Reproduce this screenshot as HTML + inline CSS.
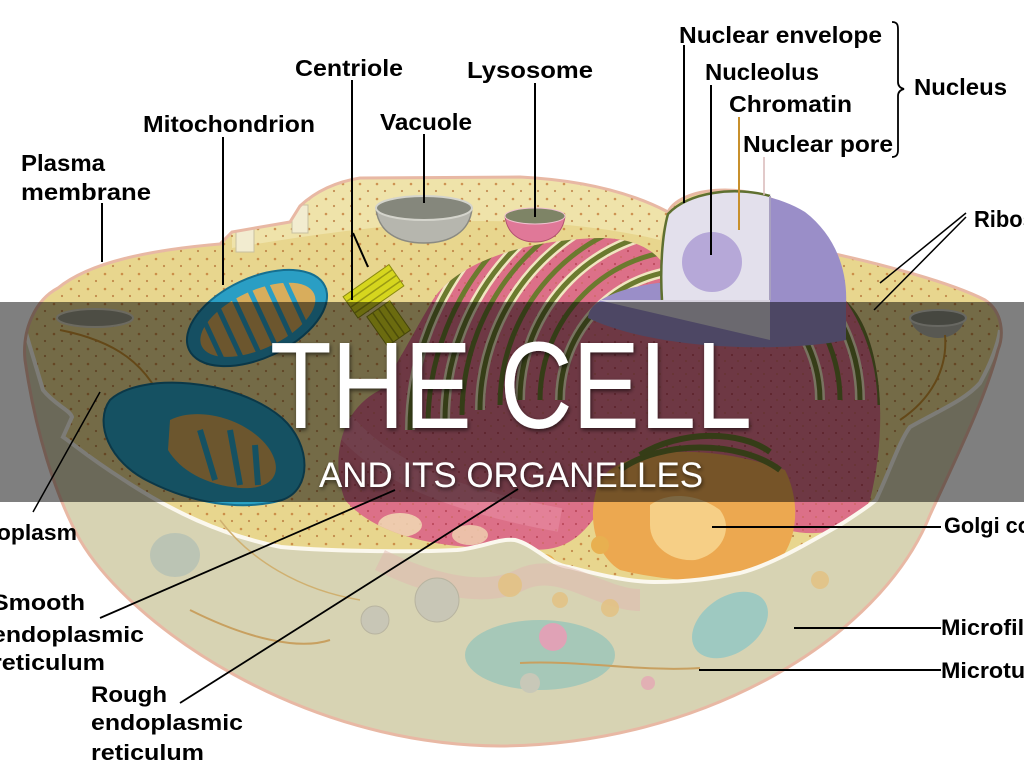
<!DOCTYPE html>
<html><head><meta charset="utf-8"><style>
html,body{margin:0;padding:0;background:#fff;width:1024px;height:768px;overflow:hidden}
svg{display:block}
.lb{font-family:"Liberation Sans",Arial,sans-serif;font-weight:bold;fill:#000}
</style></head><body>
<svg width="1024" height="768" viewBox="0 0 1024 768" xmlns="http://www.w3.org/2000/svg">
<defs>
 <clipPath id="cell"><path d="M58,288 C90,262 150,250 220,244 L232,232 L290,222 L300,206 C315,192 335,182 360,178 L520,177 C580,180 630,192 668,212 C675,198 698,190 725,190 C770,190 812,215 835,254 C880,264 950,282 985,300 C1003,312 1004,335 998,350 C985,400 955,460 930,515 C880,640 700,745 500,746 C300,745 130,625 80,540 C55,495 35,430 25,360 C22,330 35,300 58,288 Z"/></clipPath>
 <clipPath id="erc"><path d="M430,305 C450,265 520,240 600,238 C640,238 665,255 670,280 L845,300 C880,330 890,420 870,500 C850,540 800,540 760,520 L600,510 C580,540 560,555 520,548 C450,550 380,540 345,500 C330,460 340,410 380,390 C400,360 415,330 430,305 Z"/></clipPath>
 <pattern id="dots" width="17" height="15" patternUnits="userSpaceOnUse"><circle cx="3" cy="4" r="1.3" fill="#c0702c"/><circle cx="11" cy="11" r="1.1" fill="#b06a30"/></pattern>
 <pattern id="dots2" width="13" height="13" patternUnits="userSpaceOnUse"><circle cx="4" cy="4" r="1.1" fill="#a83040"/><circle cx="10" cy="10" r="0.9" fill="#c06040"/></pattern>
 <filter id="sh" x="-5%" y="-20%" width="110%" height="140%"><feDropShadow dx="1" dy="2" stdDeviation="2" flood-color="#000" flood-opacity="0.6"/></filter>
</defs>

<g clip-path="url(#cell)">
 <rect x="0" y="150" width="1024" height="620" fill="#e8d68e"/>
 <path d="M232,232 L290,222 L300,206 C315,192 335,182 360,178 L520,177 C580,180 630,192 668,212 L660,240 C600,225 500,215 400,225 C330,232 280,240 232,248 Z" fill="#efe3aa"/>
 <rect x="0" y="150" width="1024" height="620" fill="url(#dots)" opacity="0.7"/>
 <rect x="236" y="222" width="18" height="30" fill="#f2ecd0" stroke="#c8c0a0"/>
 <rect x="292" y="205" width="16" height="28" fill="#f2ecd0" stroke="#c8c0a0"/>
 <ellipse cx="95" cy="318" rx="38" ry="9" fill="#9a9a88" stroke="#d8d4c0" stroke-width="2"/>
 <path d="M910,318 C912,330 925,338 938,338 C952,338 963,330 965,318 Z" fill="#b0b0a4"/>
 <ellipse cx="938" cy="318" rx="28" ry="8" fill="#8c8e80" stroke="#d0d0c4" stroke-width="2"/>
 <path d="M945,335 C948,370 930,400 900,420" stroke="#c89030" stroke-width="2" fill="none"/>
 <path d="M60,330 C110,340 150,360 170,420" stroke="#c89030" stroke-width="2" fill="none"/>

 <g clip-path="url(#erc)">
  <rect x="300" y="220" width="620" height="360" fill="#dc7088"/>
  <rect x="300" y="220" width="620" height="360" fill="url(#dots2)" opacity="0.6"/>
  <g fill="none" stroke="#f0e6c0" stroke-width="10">
   <path d="M560,400 A130,130 0 0 1 820,400"/>
   <path d="M520,400 A170,170 0 0 1 860,400"/>
   <path d="M480,410 A210,210 0 0 1 900,410"/>
   <path d="M445,420 A245,245 0 0 1 935,420"/>
   <path d="M410,430 A280,280 0 0 1 970,430"/>
  </g>
  <g fill="none" stroke="#6b7a2e" stroke-width="5">
   <path d="M560,400 A130,130 0 0 1 820,400"/>
   <path d="M540,400 A150,150 0 0 1 840,400"/>
   <path d="M520,400 A170,170 0 0 1 860,400"/>
   <path d="M500,405 A190,190 0 0 1 880,405"/>
   <path d="M480,410 A210,210 0 0 1 900,410"/>
   <path d="M462,415 A228,228 0 0 1 918,415"/>
   <path d="M445,420 A245,245 0 0 1 935,420"/>
   <path d="M428,425 A262,262 0 0 1 952,425"/>
   <path d="M410,430 A280,280 0 0 1 970,430"/>
  </g>
  <path d="M340,420 C380,470 450,500 560,520" fill="none" stroke="#f0a0b8" stroke-width="24" opacity="0.35"/>
  <ellipse cx="400" cy="525" rx="22" ry="12" fill="#f2e2b8" opacity="0.8"/>
  <ellipse cx="470" cy="535" rx="18" ry="10" fill="#f2e2b8" opacity="0.7"/>
 </g>

 <path d="M600,480 C620,450 700,440 785,470 C805,510 795,560 760,575 C720,586 660,580 620,570 C595,555 585,515 600,480 Z" fill="#eca850"/>
 <path d="M650,505 C670,490 700,495 720,510 C735,530 720,555 695,560 C670,562 650,545 650,525 Z" fill="#f6cf86"/>
 <g fill="none" stroke="#6b7a2e" stroke-width="6">
  <path d="M620,470 C660,440 740,440 780,470"/>
  <path d="M640,455 C680,430 740,430 770,452"/>
 </g>
 <circle cx="545" cy="565" r="11" fill="#e8b050"/>
 <circle cx="600" cy="545" r="9" fill="#e8b050"/>

 <path d="M25,330 L43,390 C55,405 70,410 72,417 L63,437 C75,445 85,455 124,480 C170,510 220,535 281,547 C340,552 420,552 457,550 C480,548 500,538 515,540 C535,545 550,565 569,567 C600,575 630,582 654,582 C690,582 715,578 740,573 C770,565 800,548 843,523 C860,512 870,505 876,500 C890,470 900,440 910,427 C940,410 965,400 980,383 C990,365 998,345 1000,330 L1024,330 L1024,768 L0,768 L0,330 Z" fill="#d7d3b3"/>
 <path d="M25,330 L43,390 C55,405 70,410 72,417 L63,437 C75,445 85,455 124,480 C170,510 220,535 281,547 C340,552 420,552 457,550 C480,548 500,538 515,540 C535,545 550,565 569,567 C600,575 630,582 654,582 C690,582 715,578 740,573 C770,565 800,548 843,523 C860,512 870,505 876,500 C890,470 900,440 910,427 C940,410 965,400 980,383 C990,365 998,345 1000,330" fill="none" stroke="#fbf8ee" stroke-width="4"/>
 <path d="M380,560 C420,580 480,600 520,580 C560,560 600,600 640,600" fill="none" stroke="#e2b8b0" stroke-width="22" opacity="0.5"/>
 <ellipse cx="540" cy="655" rx="75" ry="35" fill="#9ec6b8" opacity="0.85"/>
 <ellipse cx="730" cy="625" rx="42" ry="28" transform="rotate(-35 730 625)" fill="#98c8c2" opacity="0.9"/>
 <ellipse cx="175" cy="555" rx="25" ry="22" fill="#b4c0b4" opacity="0.8"/>
 <circle cx="553" cy="637" r="14" fill="#e0a2b6"/>
 <circle cx="437" cy="600" r="22" fill="#c8c6b6" stroke="#b8b4a0"/>
 <circle cx="375" cy="620" r="14" fill="#c8c6b6" stroke="#b8b4a0"/>
 <circle cx="510" cy="585" r="12" fill="#e4c080" opacity="0.8"/>
 <circle cx="560" cy="600" r="8" fill="#e4c080" opacity="0.8"/>
 <circle cx="610" cy="608" r="9" fill="#e4c080" opacity="0.8"/>
 <circle cx="820" cy="580" r="9" fill="#e4c080" opacity="0.8"/>
 <circle cx="530" cy="683" r="10" fill="#c8c8b8"/>
 <circle cx="648" cy="683" r="7" fill="#e2b0b4"/>
 <path d="M190,610 C250,640 300,650 330,640 M520,663 C580,660 640,672 700,668" fill="none" stroke="#c8a060" stroke-width="2"/>
 <path d="M220,520 C250,560 300,590 360,600" fill="none" stroke="#d0b070" stroke-width="1.5"/>
</g>

<path d="M58,288 C90,262 150,250 220,244 L232,232 L290,222 L300,206 C315,192 335,182 360,178 L520,177 C580,180 630,192 668,212 C675,198 698,190 725,190 C770,190 812,215 835,254 C880,264 950,282 985,300 C1003,312 1004,335 998,350 C985,400 955,460 930,515 C880,640 700,745 500,746 C300,745 130,625 80,540 C55,495 35,430 25,360 C22,330 35,300 58,288 Z" fill="none" stroke="#e8b8a4" stroke-width="3"/>

<path d="M376,208 C378,232 398,243 424,243 C450,243 470,232 472,208 Z" fill="#b6b6ae" stroke="#8a8a82" stroke-width="1.5"/>
<ellipse cx="424" cy="208" rx="48" ry="12" fill="#85877c" stroke="#d4d4cc" stroke-width="2"/>
<path d="M505,216 C507,234 520,242 535,242 C550,242 563,234 565,216 Z" fill="#e07898" stroke="#b05070"/>
<ellipse cx="535" cy="216" rx="30" ry="8" fill="#7e8466" stroke="#f0c0d0"/>

<g transform="rotate(-25 257 318)">
 <ellipse cx="257" cy="318" rx="75" ry="40" fill="#2a9ec4" stroke="#156f90" stroke-width="2"/>
 <ellipse cx="257" cy="320" rx="62" ry="29" fill="#d8ad5c"/>
 <path d="M208,296 L208,344 M226,292 L226,348 M244,291 L244,349 M262,291 L262,349 M280,292 L280,348 M298,296 L298,344" stroke="#2a9ec4" stroke-width="5"/>
</g>
<path d="M110,400 C140,372 235,378 282,418 C312,445 312,490 282,500 C240,512 190,502 150,482 C108,462 94,422 110,400 Z" fill="#2aa2c4" stroke="#167090" stroke-width="2"/>
<path d="M170,420 C200,405 250,420 270,450 C285,475 270,490 240,488 C205,485 180,470 168,450 Z" fill="#d8ad5c"/>
<path d="M200,430 L215,480 M230,430 L240,485 M255,445 L258,485" stroke="#2aa2c4" stroke-width="6"/>

<g transform="rotate(-35 382 300)">
 <rect x="352" y="275" width="56" height="26" fill="#d6d61e" stroke="#8a8a10"/>
 <path d="M352,281 L408,281 M352,288 L408,288 M352,295 L408,295" stroke="#9a9a14" stroke-width="1.5"/>
 <rect x="360" y="305" width="28" height="36" fill="#d6d61e" stroke="#8a8a10"/>
 <path d="M367,305 L367,341 M374,305 L374,341 M381,305 L381,341" stroke="#9a9a14" stroke-width="1.5"/>
</g>

<path d="M668,214 C690,188 760,184 805,212 C835,235 848,270 846,305 L846,340 C790,352 660,352 588,318 C588,298 630,285 668,282 Z" fill="#9a8ec8"/>
<path d="M668,214 C688,192 735,186 770,196 L770,300 L662,300 C660,270 662,235 668,214 Z" fill="#e3e0ec"/>
<path d="M662,300 C660,270 662,235 668,214 C688,192 735,186 770,196" fill="none" stroke="#5f7030" stroke-width="2.5"/>
<path d="M770,196 L770,300" stroke="#a8a0c0" stroke-width="2"/>
<polygon points="598,300 770,300 770,340" fill="#d6d2de"/>
<circle cx="712" cy="262" r="30" fill="#b0a2d6" opacity="0.9"/>

<g stroke="#000" stroke-width="2" fill="none">
 <path d="M102,203 L102,262"/>
 <path d="M223,137 L223,285"/>
 <path d="M352,80 L352,300"/>
 <path d="M353,233 L368,267"/>
 <path d="M424,134 L424,203"/>
 <path d="M535,83 L535,217"/>
 <path d="M684,45 L684,203"/>
 <path d="M711,85 L711,255"/>
 <path d="M966,213 L880,283" stroke-width="1.5"/>
 <path d="M966,217 L874,310" stroke-width="1.5"/>
 <path d="M33,512 L100,392" stroke-width="1.5"/>
 <path d="M100,618 L395,490" stroke-width="1.8"/>
 <path d="M180,703 L518,489" stroke-width="1.8"/>
 <path d="M712,527 L941,527"/>
 <path d="M794,628 L941,628"/>
 <path d="M699,670 L941,670"/>
 <path d="M892,22 C898,22 898,26 898,30 L898,82 C898,86 900,88 904,89 C900,90 898,92 898,96 L898,150 C898,155 896,157 892,157" stroke-width="1.8"/>
</g>
<path d="M739,117 L739,230" stroke="#c8902c" stroke-width="2"/>
<path d="M764,157 L764,195" stroke="#d8b8b8" stroke-width="1.5"/>

<rect x="0" y="302" width="1024" height="200" fill="rgba(0,0,0,0.5)"/>

<g filter="url(#sh)" font-family="'Liberation Sans', Arial, sans-serif" fill="#fff">
 <text x="270" y="428" font-size="123" textLength="482" lengthAdjust="spacingAndGlyphs">THE CELL</text>
 <text x="319" y="487" font-size="35" textLength="384" lengthAdjust="spacingAndGlyphs">AND ITS ORGANELLES</text>
</g>

<g class="lb" font-size="23">
 <text class="lb" x="679" y="43" textLength="203" lengthAdjust="spacingAndGlyphs">Nuclear envelope</text>
 <text class="lb" x="705" y="80" textLength="114" lengthAdjust="spacingAndGlyphs">Nucleolus</text>
 <text class="lb" x="729" y="112" textLength="123" lengthAdjust="spacingAndGlyphs">Chromatin</text>
 <text class="lb" x="743" y="152" textLength="150" lengthAdjust="spacingAndGlyphs">Nuclear pore</text>
 <text class="lb" x="914" y="95" textLength="93" lengthAdjust="spacingAndGlyphs">Nucleus</text>
 <text class="lb" x="295" y="76" textLength="108" lengthAdjust="spacingAndGlyphs">Centriole</text>
 <text class="lb" x="467" y="78" textLength="126" lengthAdjust="spacingAndGlyphs">Lysosome</text>
 <text class="lb" x="143" y="132" textLength="172" lengthAdjust="spacingAndGlyphs">Mitochondrion</text>
 <text class="lb" x="380" y="130" textLength="92" lengthAdjust="spacingAndGlyphs">Vacuole</text>
 <text class="lb" x="21" y="171" textLength="84" lengthAdjust="spacingAndGlyphs">Plasma</text>
 <text class="lb" x="21" y="200" textLength="130" lengthAdjust="spacingAndGlyphs">membrane</text>
 <text class="lb" x="974" y="227" textLength="118" lengthAdjust="spacingAndGlyphs">Ribosomes</text>
</g>
<g class="lb" font-size="22">
 <text class="lb" x="-40" y="540" textLength="117" lengthAdjust="spacingAndGlyphs">Cytoplasm</text>
 <text class="lb" x="-8" y="610" textLength="93" lengthAdjust="spacingAndGlyphs">Smooth</text>
 <text class="lb" x="-8" y="642" textLength="152" lengthAdjust="spacingAndGlyphs">endoplasmic</text>
 <text class="lb" x="-8" y="670" textLength="113" lengthAdjust="spacingAndGlyphs">reticulum</text>
 <text class="lb" x="91" y="702" textLength="76" lengthAdjust="spacingAndGlyphs">Rough</text>
 <text class="lb" x="91" y="730" textLength="152" lengthAdjust="spacingAndGlyphs">endoplasmic</text>
 <text class="lb" x="91" y="760" textLength="113" lengthAdjust="spacingAndGlyphs">reticulum</text>
 <text class="lb" x="944" y="533" textLength="150" lengthAdjust="spacingAndGlyphs">Golgi complex</text>
 <text class="lb" x="941" y="635" textLength="165" lengthAdjust="spacingAndGlyphs">Microfilaments</text>
 <text class="lb" x="941" y="678" textLength="145" lengthAdjust="spacingAndGlyphs">Microtubules</text>
</g>
</svg>
</body></html>
